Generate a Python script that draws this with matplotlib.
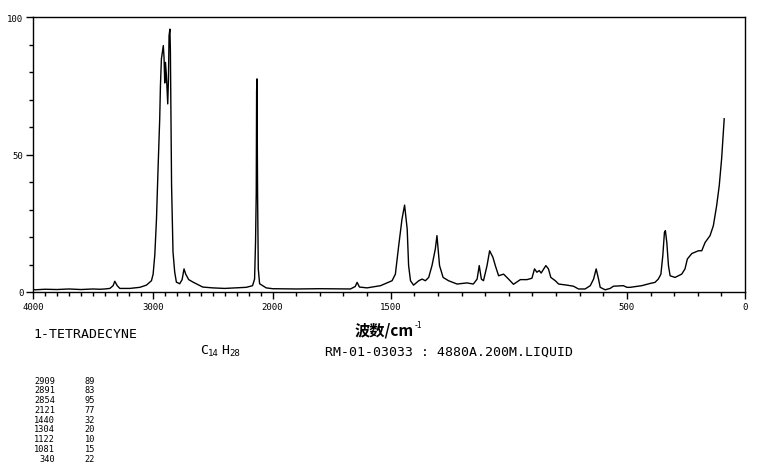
import numpy as np
import matplotlib
matplotlib.use('Agg')
import matplotlib.pyplot as plt
from matplotlib.ticker import FixedLocator, NullFormatter

# Raman spectrum of 1-tetradecyne
wavenumber = [4000, 3983, 3900, 3800, 3700, 3600, 3500, 3442, 3400, 3358, 3331, 3317, 3297, 3275,
              3192, 3108, 3053, 3011, 2997, 2983, 2969, 2956, 2942, 2936, 2928, 2912,
              2906, 2900, 2894, 2886, 2881, 2875, 2869, 2864, 2857, 2853, 2848, 2843, 2831,
              2817, 2803, 2775, 2755, 2739, 2725, 2700, 2664, 2583, 2500, 2400, 2300, 2219,
              2167, 2150, 2142, 2136, 2133, 2130, 2125, 2119, 2108, 2053, 2000, 1900, 1800,
              1700, 1670, 1650, 1642, 1632, 1600, 1543, 1494, 1480, 1466, 1452, 1441, 1430,
              1424, 1416, 1403, 1381, 1367, 1353, 1339, 1325, 1311, 1304, 1293, 1278, 1255,
              1219, 1177, 1150, 1134, 1125, 1116, 1107, 1092, 1081, 1067, 1057, 1043, 1022,
              1001, 980, 951, 923, 902, 891, 881, 871, 863, 843, 832, 822, 803, 789, 754,
              726, 705, 677, 655, 641, 630, 620, 613, 592, 571, 557, 515, 500, 486, 437,
              402, 381, 367, 356, 348, 341, 337, 331, 324, 317, 296, 268, 254, 244, 225,
              197, 183, 169, 148, 134, 120, 109, 99, 92, 88]
intensity = [1.0, 0.8, 1.0, 0.9, 1.1, 0.9, 1.1, 1.0, 1.1, 1.3, 2.3, 3.9, 2.3, 1.3,
             1.3, 1.7, 2.5, 4.1, 6.5, 13.5, 26.5, 44.7, 63, 75, 84.7, 89.6,
             85.3, 76, 83.5, 78.7, 73.8, 68.4, 77.5, 93.2, 95.6, 88, 63, 38.7, 14.5,
             7.3, 3.6, 3.0, 4.5, 8.4, 6.5, 4.5, 3.6, 1.8, 1.5, 1.3, 1.5, 1.7,
             2.3, 4.7, 18, 36, 73, 77.5, 36, 8.4, 3.0, 1.5, 1.2, 1.1, 1.2,
             1.1, 1.1, 2.0, 3.5, 1.8, 1.5, 2.3, 4.1, 6.5, 16.8, 26.5, 31.6, 22.9,
             9.6, 4.1, 2.5, 4.1, 4.7, 4.1, 5.3, 9.6, 15.6, 20.5, 9.6, 5.3, 4.1,
             2.9, 3.3, 2.9, 4.7, 9.6, 4.7, 4.1, 9.6, 15, 12.6, 9.6, 5.9, 6.5,
             4.7, 2.8, 4.5, 4.5, 5.0, 8.4, 7.2, 7.8, 6.9, 9.6, 8.4, 5.3, 4.1, 2.9, 2.5,
             2.1, 1.1, 1.1, 2.3, 4.7, 8.4, 4.7, 1.7, 0.8, 1.3, 2.1, 2.3, 1.7, 1.7, 2.3,
             3.1, 3.5, 4.7, 6.5, 13.2, 21.7, 22.3, 18, 9.6, 5.9, 5.3, 6.5, 8.4, 12, 14,
             15, 15, 18, 20.5, 24.1, 31.4, 38.7, 48.4, 58, 63]

peak_wn = [2909, 2891, 2854, 2121, 1440, 1304, 1122, 1081, 340]
peak_int = [89, 83, 95, 77, 32, 20, 10, 15, 22]

x_ticks = [4000, 3000, 2000, 1500, 500, 0]
y_ticks = [0, 50, 100]

W, H = 761, 477
mono = 'DejaVu Sans Mono'
cjk = ['Noto Sans CJK SC', 'DejaVu Sans']


def px(x, y):
    # pixel position -> figure fraction
    return x / W, 1 - y / H


# the axis is compressed above 2000 cm-1
def fwd(x):
    x = np.asarray(x, float)
    return np.where(x > 2000, 2000 + (x - 2000) * 0.507, x)


def inv(u):
    u = np.asarray(u, float)
    return np.where(u > 2000, 2000 + (u - 2000) / 0.507, u)


fig = plt.figure(figsize=(W / 100, H / 100), dpi=100)
ax = fig.add_axes([33 / W, 1 - 293 / H, (745 - 33) / W, (293 - 18) / H])

ax.plot(wavenumber, intensity, color='black', lw=1.0)

ax.set_xscale('function', functions=(fwd, inv))
ax.set_xlim(4000, 0)
ax.set_ylim(0, 100)

ax.xaxis.set_major_locator(FixedLocator(x_ticks))
ax.xaxis.set_minor_locator(FixedLocator(np.arange(100, 4000, 100)))
ax.xaxis.set_minor_formatter(NullFormatter())
ax.set_xticklabels([str(v) for v in x_ticks])
ax.yaxis.set_major_locator(FixedLocator(y_ticks))
ax.yaxis.set_minor_locator(FixedLocator(np.arange(10, 100, 10)))
ax.set_yticklabels([str(v) for v in y_ticks])

ax.tick_params(which='major', direction='out', length=5, width=1, labelsize=6.5, pad=2)
ax.tick_params(which='minor', direction='out', length=3, width=1)
for lab in ax.get_xticklabels() + ax.get_yticklabels():
    lab.set_fontfamily(mono)
for sp in ax.spines.values():
    sp.set_linewidth(1.0)

# axis title: 波数/cm^-1
fig.text(*px(355, 331), '波数/cm', ha='left', va='center', fontsize=11,
         fontweight='bold', family=cjk)
fig.text(*px(415, 325), '-1', ha='left', va='center', fontsize=6, family=cjk)

fig.text(*px(33, 335), '1-TETRADECYNE', ha='left', va='center', fontsize=9.5, family=mono)

# formula C14H28
fig.text(*px(200, 350), 'C', ha='left', va='center', fontsize=9.5, family=mono)
fig.text(*px(208, 354), '14', ha='left', va='center', fontsize=6.5, family=mono)
fig.text(*px(221, 350), 'H', ha='left', va='center', fontsize=9.5, family=mono)
fig.text(*px(229, 354), '28', ha='left', va='center', fontsize=6.5, family=mono)

fig.text(*px(325, 352), 'RM-01-03033 : 4880A.200M.LIQUID', ha='left', va='center',
         fontsize=9.5, family=mono)

# peak table
for i, (w, v) in enumerate(zip(peak_wn, peak_int)):
    yy = 381 + i * 9.8
    fig.text(*px(55, yy), str(w), ha='right', va='center', fontsize=6.2, family=mono)
    fig.text(*px(95, yy), str(v), ha='right', va='center', fontsize=6.2, family=mono)

fig.savefig('out.png', dpi=100)
